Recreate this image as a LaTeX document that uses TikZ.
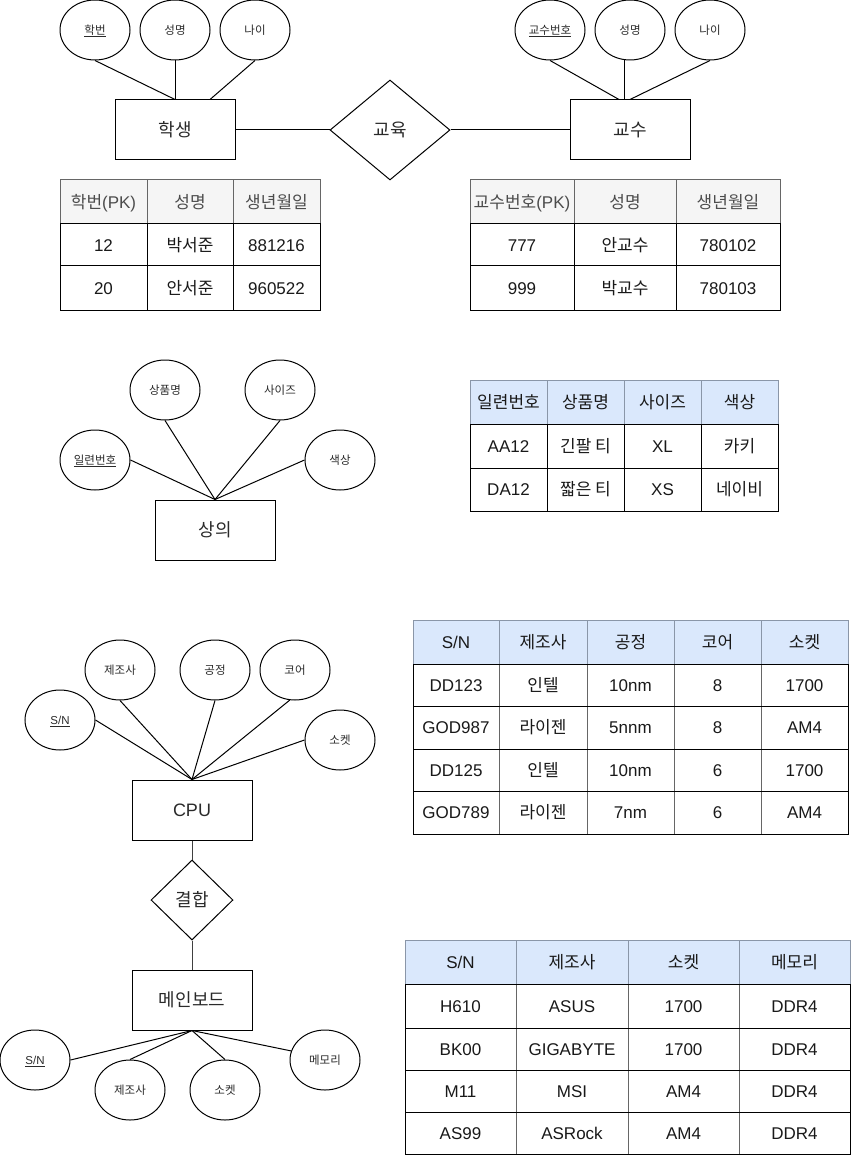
\documentclass[tikz,border=0pt]{standalone}
\usepackage{fontspec}
\setmainfont{Liberation Sans}
\newfontfamily\kr{Noto Sans CJK KR}
\usetikzlibrary{shapes.geometric}
\definecolor{hdrgray}{HTML}{F5F5F5}
\definecolor{hdrblue}{HTML}{DAE8FC}
\definecolor{gline}{HTML}{666666}
\definecolor{bline}{HTML}{8A96A8}
\definecolor{ktext}{HTML}{2A2A2A}
\begin{document}
\begin{tikzpicture}[x=1pt,y=-1pt,line width=1pt,
  attr/.style={draw,ellipse,minimum width=70pt,minimum height=60pt,inner sep=0pt,
    font=\fontsize{11.5}{14}\selectfont,text height=8.6pt,text depth=0pt,text=ktext},
  ent/.style={draw,rectangle,minimum width=120pt,minimum height=60pt,inner sep=0pt,
    font=\fontsize{18}{20}\selectfont,text height=13pt,text depth=0pt,text=ktext},
  rel/.style={draw,diamond,minimum width=120pt,minimum height=100pt,inner sep=0pt,
    font=\fontsize{18}{20}\selectfont,text height=13pt,text depth=0pt,text=ktext},
  cell/.style={inner sep=0pt,font=\fontsize{17}{19}\selectfont,text height=12.6pt,text depth=0pt,text=black!90},
]
\useasboundingbox (0,0) rectangle (851,1155);

% ---------- Student / Professor ----------
\node[ent] (stu) at (175,130) {\kr 학생};
\node[rel] (edu) at (390,130) {\kr 교육};
\node[ent] (prof) at (630,130) {\kr 교수};
\node[attr] (a1) at (95,30) {\underline{\kr 학번}};
\node[attr] (a2) at (175,30) {\kr 성명};
\node[attr] (a3) at (255,30) {\kr 나이};
\node[attr] (b1) at (550,30) {\underline{\kr 교수번호}};
\node[attr] (b2) at (630,30) {\kr 성명};
\node[attr] (b3) at (710,30) {\kr 나이};
\draw (a1.south) -- (stu.north);
\draw (a2.south) -- (stu.north);
\draw (a3.south) -- ([xshift=35pt]stu.north);
\draw (stu.east) -- (edu.west);
\draw (edu.east) -- (prof.west);
\draw (b1.south) -- ([xshift=-11pt]prof.north);
\draw ([xshift=-6pt]b2.south) -- ([xshift=-6pt]prof.north);
\draw (b3.south) -- (prof.north);

% table 1
\fill[hdrgray] (60,180) rectangle (320,224);
\draw[gline] (60,180) rectangle (320,224) (147,180) -- (147,224) (233,180) -- (233,224);
\draw (60,224) rectangle (320,310) (60,266) -- (320,266) (147,224) -- (147,310) (233,224) -- (233,310);
\node[cell,text=black!70] (t1h1) at (103.5,202) {{\kr 학번}(PK)};
\node[cell,text=black!70] (t1h2) at (190,202) {\kr 성명};
\node[cell,text=black!70] (t1h3) at (276.5,202) {\kr 생년월일};
\node[cell] (t1a1) at (103.5,245) {12};
\node[cell] (t1a2) at (190,245) {\kr 박서준};
\node[cell] (t1a3) at (276.5,245) {881216};
\node[cell] (t1b1) at (103.5,288) {20};
\node[cell] (t1b2) at (190,288) {\kr 안서준};
\node[cell] (t1b3) at (276.5,288) {960522};

% table 2
\fill[hdrgray] (470,180) rectangle (780,224);
\draw[gline] (470,180) rectangle (780,224) (574,180) -- (574,224) (676,180) -- (676,224);
\draw (470,224) rectangle (780,310) (470,266) -- (780,266) (574,224) -- (574,310) (676,224) -- (676,310);
\node[cell,text=black!70] (t2h1) at (522,202) {{\kr 교수번호}(PK)};
\node[cell,text=black!70] (t2h2) at (625,202) {\kr 성명};
\node[cell,text=black!70] (t2h3) at (728,202) {\kr 생년월일};
\node[cell] (t2a1) at (522,245) {777};
\node[cell] (t2a2) at (625,245) {\kr 안교수};
\node[cell] (t2a3) at (728,245) {780102};
\node[cell] (t2b1) at (522,288) {999};
\node[cell] (t2b2) at (625,288) {\kr 박교수};
\node[cell] (t2b3) at (728,288) {780103};

% ---------- Top garment ----------
\node[ent] (top) at (215,530) {\kr 상의};
\node[attr] (c1) at (95,460) {\underline{\kr 일련번호}};
\node[attr] (c2) at (165,390) {\kr 상품명};
\node[attr] (c3) at (280,390) {\kr 사이즈};
\node[attr] (c4) at (340,460) {\kr 색상};
\draw (c1.east) -- (top.north);
\draw (c2.south) -- (top.north);
\draw (c3.south) -- (top.north);
\draw (c4.west) -- (top.north);

% table 3
\fill[hdrblue] (470,380) rectangle (778,424);
\draw[bline] (470,380) rectangle (778,424) (547,380) -- (547,424) (624,380) -- (624,424) (701,380) -- (701,424);
\draw (470,424) rectangle (778,511) (470,468) -- (778,468) (547,424) -- (547,511) (624,424) -- (624,511) (701,424) -- (701,511);
\node[cell] (t3h1) at (508.5,402) {\kr 일련번호};
\node[cell] (t3h2) at (585.5,402) {\kr 상품명};
\node[cell] (t3h3) at (662.5,402) {\kr 사이즈};
\node[cell] (t3h4) at (739.5,402) {\kr 색상};
\node[cell] (t3a1) at (508.5,446) {AA12};
\node[cell] (t3a2) at (585.5,446) {\kr 긴팔 티};
\node[cell] (t3a3) at (662.5,446) {XL};
\node[cell] (t3a4) at (739.5,446) {\kr 카키};
\node[cell] (t3b1) at (508.5,489.5) {DA12};
\node[cell] (t3b2) at (585.5,489.5) {\kr 짧은 티};
\node[cell] (t3b3) at (662.5,489.5) {XS};
\node[cell] (t3b4) at (739.5,489.5) {\kr 네이비};

% ---------- CPU / Mainboard ----------
\node[ent] (cpu) at (192,810) {CPU};
\node[attr] (d1) at (60,720) {\underline{S/N}};
\node[attr] (d2) at (120,670) {\kr 제조사};
\node[attr] (d3) at (215,670) {\kr 공정};
\node[attr] (d4) at (295,670) {\kr 코어};
\node[attr] (d5) at (340,740) {\kr 소켓};
\draw (d1.east) -- (cpu.north);
\draw (d2.south) -- (cpu.north);
\draw (d3.south) -- (cpu.north);
\draw (d4.260) -- (cpu.north);
\draw (d5.west) -- (cpu.north);
\node[rel,minimum width=82pt,minimum height=80pt] (join) at (192,900) {\kr 결합};
\node[ent] (mb) at (192,1000) {\kr 메인보드};
\draw[black!75] (cpu.south) -- (join.north);
\draw[black!75] (join.south) -- (mb.north);
\node[attr] (e1) at (35,1060) {\underline{S/N}};
\node[attr] (e2) at (130,1090) {\kr 제조사};
\node[attr] (e3) at (225,1090) {\kr 소켓};
\node[attr] (e4) at (325,1060) {\kr 메모리};
\draw (e1.east) -- (mb.south);
\draw (e2.north) -- (mb.south);
\draw (e3.north) -- (mb.south);
\draw (e4.165) -- (mb.south);

% table 4
\fill[hdrblue] (413,620) rectangle (848,664);
\draw[bline] (413,620) rectangle (848,664) (499,620) -- (499,664) (587,620) -- (587,664) (674,620) -- (674,664) (761,620) -- (761,664);
\draw[gline] (499,664) -- (499,834) (587,664) -- (587,834) (674,664) -- (674,834) (761,664) -- (761,834);
\draw (413,664) rectangle (848,834) (413,706) -- (848,706) (413,749) -- (848,749) (413,791) -- (848,791);
\node[cell] (t4h1) at (456,642) {S/N};
\node[cell] (t4h2) at (543,642) {\kr 제조사};
\node[cell] (t4h3) at (630.5,642) {\kr 공정};
\node[cell] (t4h4) at (717.5,642) {\kr 코어};
\node[cell] (t4h5) at (804.5,642) {\kr 소켓};
\node[cell] (t4a1) at (456,685) {DD123};
\node[cell] (t4a2) at (543,685) {\kr 인텔};
\node[cell] (t4a3) at (630.5,685) {10nm};
\node[cell] (t4a4) at (717.5,685) {8};
\node[cell] (t4a5) at (804.5,685) {1700};
\node[cell] (t4b1) at (456,727.5) {GOD987};
\node[cell] (t4b2) at (543,727.5) {\kr 라이젠};
\node[cell] (t4b3) at (630.5,727.5) {5nnm};
\node[cell] (t4b4) at (717.5,727.5) {8};
\node[cell] (t4b5) at (804.5,727.5) {AM4};
\node[cell] (t4c1) at (456,770) {DD125};
\node[cell] (t4c2) at (543,770) {\kr 인텔};
\node[cell] (t4c3) at (630.5,770) {10nm};
\node[cell] (t4c4) at (717.5,770) {6};
\node[cell] (t4c5) at (804.5,770) {1700};
\node[cell] (t4d1) at (456,812.5) {GOD789};
\node[cell] (t4d2) at (543,812.5) {\kr 라이젠};
\node[cell] (t4d3) at (630.5,812.5) {7nm};
\node[cell] (t4d4) at (717.5,812.5) {6};
\node[cell] (t4d5) at (804.5,812.5) {AM4};

% table 5
\fill[hdrblue] (405,940) rectangle (850,984);
\draw[bline] (405,940) rectangle (850,984) (516,940) -- (516,984) (628,940) -- (628,984) (739,940) -- (739,984);
\draw[gline] (516,984) -- (516,1154) (628,984) -- (628,1154) (739,984) -- (739,1154);
\draw (405,984) rectangle (850,1154) (405,1028) -- (850,1028) (405,1070) -- (850,1070) (405,1112) -- (850,1112);
\node[cell] (t5h1) at (460.5,962) {S/N};
\node[cell] (t5h2) at (572,962) {\kr 제조사};
\node[cell] (t5h3) at (683.5,962) {\kr 소켓};
\node[cell] (t5h4) at (794.5,962) {\kr 메모리};
\node[cell] (t5a1) at (460.5,1006) {H610};
\node[cell] (t5a2) at (572,1006) {ASUS};
\node[cell] (t5a3) at (683.5,1006) {1700};
\node[cell] (t5a4) at (794.5,1006) {DDR4};
\node[cell] (t5b1) at (460.5,1049) {BK00};
\node[cell] (t5b2) at (572,1049) {GIGABYTE};
\node[cell] (t5b3) at (683.5,1049) {1700};
\node[cell] (t5b4) at (794.5,1049) {DDR4};
\node[cell] (t5c1) at (460.5,1091) {M11};
\node[cell] (t5c2) at (572,1091) {MSI};
\node[cell] (t5c3) at (683.5,1091) {AM4};
\node[cell] (t5c4) at (794.5,1091) {DDR4};
\node[cell] (t5d1) at (460.5,1133) {AS99};
\node[cell] (t5d2) at (572,1133) {ASRock};
\node[cell] (t5d3) at (683.5,1133) {AM4};
\node[cell] (t5d4) at (794.5,1133) {DDR4};
\end{tikzpicture}
\end{document}
